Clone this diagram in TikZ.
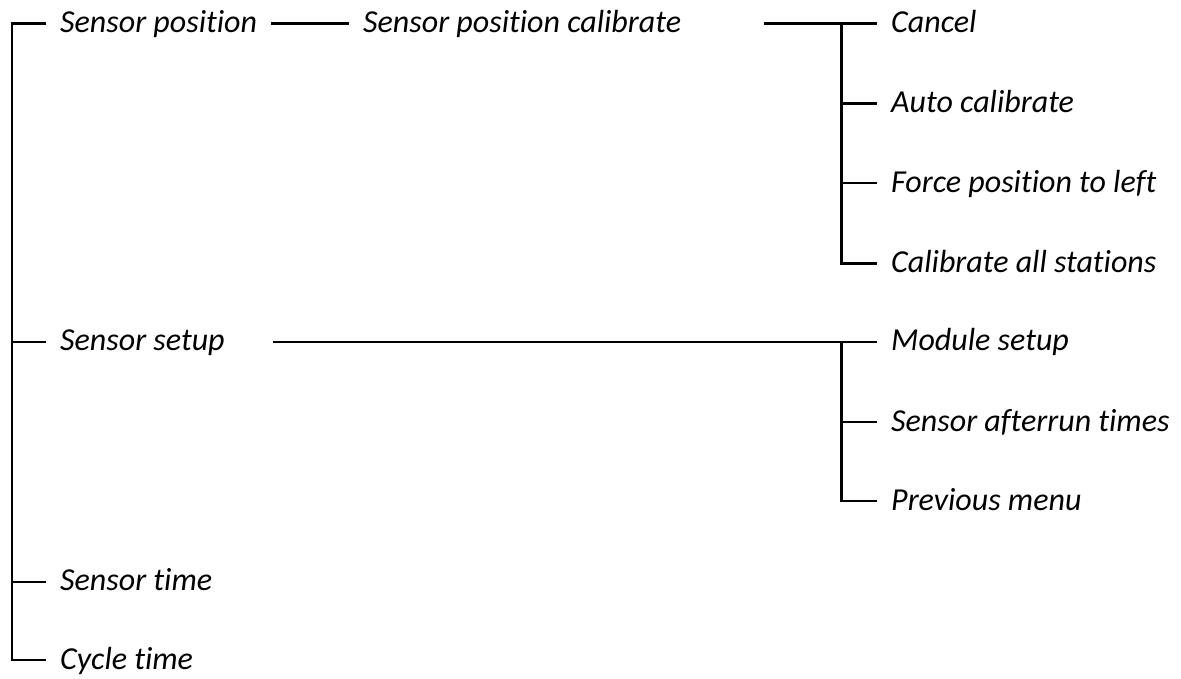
\documentclass[tikz,border=0pt]{standalone}
\usepackage{fontspec}
\setmainfont{Carlito}[Ligatures=NoCommon]
\begin{document}
\begin{tikzpicture}[x=1pt,y=-1pt,
  item/.style={inner xsep=15pt, inner ysep=0pt, text height=18pt, text depth=0pt,
    anchor=west, font=\fontsize{32}{38}\selectfont\itshape},
  link/.style={line width=2.4pt, line cap=rect}]
\useasboundingbox (0,0) rectangle (1181,678);
% left column
\node[item] (sp) at (45,23.5) {Sensor position};
\node[item] (ss) at (45,341.7) {Sensor setup};
\node[item] (st) at (45,581.7) {Sensor time};
\node[item] (ct) at (45,660) {Cycle time};
% middle
\node[item] (spc) at (348,23.5) {Sensor position calibrate};
% right column
\node[item] (ca) at (876,23.5) {Cancel};
\node[item] (ac) at (876,103.3) {Auto calibrate};
\node[item] (fp) at (876,183) {Force position to left};
\node[item] (cs) at (876,263.3) {Calibrate all stations};
\node[item] (ms) at (876,341.7) {Module setup};
\node[item] (sa) at (876,422) {Sensor afterrun times};
\node[item] (pm) at (876,501) {Previous menu};
% junctions
\coordinate (r) at (11.7,23.5);
\coordinate (s1) at (765,23.5);
\coordinate (j1) at (841.5,23.5);
\coordinate (s2) at (274,341.7);
\coordinate (j2) at (841.5,341.7);
% root tree
\draw[link] (sp.west) -- (r) |- (ct.west);
\draw[link] (r |- ss.west) -- (ss.west);
\draw[link] (r |- st.west) -- (st.west);
% sensor position branch
\draw[link] (sp.east) -- (spc.west);
\draw[link] (s1) -- (ca.west);
\draw[link] (j1) |- (cs.west);
\draw[link] (j1 |- ac.west) -- (ac.west);
\draw[link] (j1 |- fp.west) -- (fp.west);
% sensor setup branch
\draw[link] (s2) -- (ms.west);
\draw[link] (j2) |- (pm.west);
\draw[link] (j2 |- sa.west) -- (sa.west);
\end{tikzpicture}
\end{document}
